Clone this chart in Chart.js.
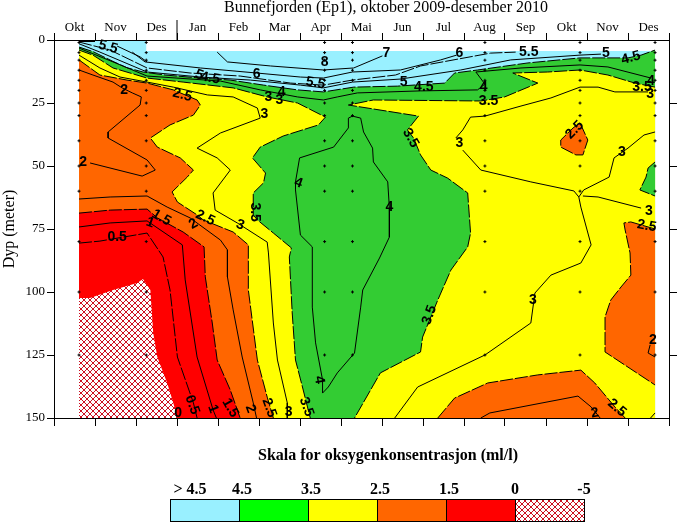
<!DOCTYPE html>
<html>
<head>
<meta charset="utf-8">
<title>Bunnefjorden</title>
<script src="https://cdn.jsdelivr.net/npm/chart.js@4"></script>
<style>
    body { margin: 0; background: #fff; }
    canvas { display: block; }
</style>
</head>
<body>
<canvas id="oxygen-section" width="677" height="523"></canvas>
<script>
const months = ['Okt', 'Nov', 'Des', 'Jan', 'Feb', 'Mar', 'Apr', 'Mai', 'Jun', 'Jul', 'Aug', 'Sep', 'Okt', 'Nov', 'Des'];
const depthTicks = [0, 25, 50, 75, 100, 125, 150];
const firstMonth = 0.61;
const lastMonth = 14.66;

// stations and sampling depths (month, metre)
const sampleMonths = [0.61, 2.25, 6.6, 7.28, 10.51, 12.83, 14.66];
const sampleDepths = [1, 5, 8, 12, 16, 20, 25, 30, 40, 50, 60, 80, 100, 125];

const surfaceWater = [[0.61, 0.4], [2.25, 0.4], [2.25, 4.4], [14.66, 4.4], [14.66, 30], [0.61, 30]];
const edge45 = [[0.61, 2.8], [0.95, 4.6], [1.44, 8.5], [1.78, 11], [2.17, 12.7], [2.71, 13.9], [3.57, 15.1], [4.3, 15.9], [5.11, 17.9], [5.94, 19.8], [6.57, 20.6], [7.31, 18.7], [8.38, 18.3], [9.53, 17.1], [9.77, 13.1], [10.33, 11.9], [11.56, 9.1], [12.83, 7.1], [14.0, 7.1], [14.32, 6.0], [14.66, 4.0]];
const edge35Left = [[0.61, 4.0], [0.95, 6.0], [1.44, 11.1], [2.27, 15.1], [3.15, 16.7], [4.37, 19.0], [5.2, 22.6], [5.94, 25.0], [6.62, 30.6], [6.45, 33.7], [5.59, 38.1], [5.03, 42.5], [4.84, 46.8], [5.16, 52.8], [5.11, 56.7], [4.86, 60.7], [4.86, 69.4], [4.96, 71.4], [5.35, 76.6], [5.79, 82.5], [5.74, 86.1], [5.81, 108.3], [5.89, 127], [6.06, 137.7], [6.25, 150]];
const edge35Right = [[14.66, 18.7], [14.17, 17.1], [13.51, 13.9], [12.83, 11.9], [12.04, 12.7], [11.19, 13.1], [11.8, 17.1], [10.99, 22.6], [10.41, 24.2], [7.79, 23.8], [7.18, 25.8], [8.89, 30.2], [8.62, 35.7], [8.77, 38.9], [8.94, 45.6], [9.19, 51.6], [9.6, 54.8], [10.09, 60.7], [10.16, 76.6], [10.09, 82.1], [9.68, 91.3], [9.36, 103.2], [8.99, 117.9], [8.94, 123.8], [7.96, 132.1], [7.33, 150]];
const edge25Left = [[0.61, 7.9], [1.12, 13.9], [1.78, 15.9], [2.27, 17.1], [2.91, 19.8], [3.49, 23.8], [3.57, 25.8], [3.4, 29.8], [2.83, 33.7], [2.35, 38.9], [2.52, 42.5], [3.08, 46.8], [3.4, 51.6], [3.25, 54.4], [2.88, 60.3], [3.01, 64.3], [3.49, 69.4], [3.64, 71.4], [4.37, 76.2], [4.74, 81.3], [4.74, 99.2], [4.96, 127], [5.2, 141.7], [5.35, 150]];
const edge25Small = [[12.83, 32.9], [13.02, 39.7], [12.9, 45.6], [12.73, 45.6], [12.36, 42.5], [12.36, 39.7], [12.66, 34.9], [12.83, 32.9]];
const edge25Side = [[14.66, 75], [14.07, 72.2], [13.9, 72.6], [13.93, 75.4], [14.05, 84.5], [14.07, 93.3], [13.83, 98], [13.58, 103.2], [13.44, 109.9], [13.44, 123.8], [14.66, 136.9]];
const edge25Floor = [[9.36, 150], [9.77, 142.1], [10.58, 136.1], [11.8, 132.9], [12.85, 131], [13.19, 136.1], [13.68, 145.6], [13.93, 150]];
const edge35Side = [[14.66, 48.4], [14.49, 50.8], [14.44, 54.4], [14.29, 59.5], [14.66, 61.9]];
const edge15 = [[0.61, 68.7], [1.37, 67.5], [2.27, 67.1], [2.52, 70.6], [3.15, 76.2], [3.66, 82.1], [3.69, 94], [3.86, 112.3], [3.98, 127], [4.3, 138.9], [4.54, 150]];
const edge0 = [[0.61, 102.4], [0.88, 102.4], [1.44, 99.2], [2.03, 96.4], [2.17, 94.8], [2.35, 99.2], [2.42, 116.3], [2.52, 125.8], [2.76, 136.1], [2.91, 144], [3.01, 150]];

// whole-value isolines
const line8 = [[0.61, 0.6], [1.0, 0.6]];
const line7 = [[3.98, 4.8], [4.23, 8.7], [5.28, 10.3], [6.57, 11.9], [7.31, 11.1], [8.01, 6.3]];
const line6 = [[1.91, 4.8], [2.22, 8.7], [3.57, 11.1], [4.94, 13.1], [6.01, 14.7], [6.57, 15.1], [7.28, 12.7], [8.45, 11.9], [9.43, 7.9], [9.82, 6]];
const line6b = [[1.54, 2.4], [2.1, 6.7], [2.27, 8.7]];
const line5 = [[0.61, 1.5], [1.12, 4.8], [2.27, 12.7], [3.57, 14.7], [4.79, 15.9], [6.01, 17.9], [6.57, 19], [7.28, 16.7], [8.45, 15.5], [9.92, 11.9], [11.14, 7.9], [12.83, 6], [13.34, 5.6]];
const line4 = [[0.61, 3.2], [1.44, 8.7], [2.27, 14.3], [4.06, 16.3], [5.03, 19.8], [5.94, 22.6], [6.57, 23.8], [6.91, 22.6], [7.4, 21], [8.94, 20.2], [10.33, 19.8], [10.51, 17.5], [10.29, 12.7], [11.39, 11.1], [12.83, 9.9], [13.51, 10.7], [14.56, 15.1]];
const line4Core = [[7.28, 30.2], [7.48, 31], [7.55, 36.5], [7.77, 42.9], [7.79, 48.4], [8.14, 56.3], [8.18, 66.7], [8.18, 78.2], [7.94, 86.5], [7.53, 99.2], [7.48, 106], [7.33, 124.2], [6.91, 132.1], [6.69, 137.7], [6.55, 140.1], [6.55, 134.9], [6.38, 120.2], [6.3, 106], [6.3, 82.1], [6.01, 77.4], [5.89, 59.5], [5.89, 56.3], [5.99, 46.8], [6.82, 42.5], [7.18, 34.9], [7.18, 31], [7.28, 30.2]];
const line3Left = [[0.61, 6.0], [1.12, 11.1], [1.61, 14.7], [2.27, 16.7], [2.91, 18.7], [3.74, 21.8], [4.37, 22.6], [4.96, 27], [5.03, 31], [4.06, 36.9], [3.49, 42.9], [3.98, 46.8], [4.3, 51.6], [3.88, 60.7], [3.93, 67.5], [4.47, 72.6], [5.2, 80.2], [5.23, 84.5], [5.35, 112.3], [5.45, 127], [5.69, 144], [5.69, 150]];
const line3Top = [[9.8, 38.9], [9.97, 35.7], [10.16, 30.6], [10.51, 30.2], [11.39, 26.2], [12.12, 23], [12.83, 18.7], [13.27, 18.7], [13.68, 20.6], [14.49, 20.6]];
const line3Mid = [[9.97, 43.7], [10.41, 51.6], [11.63, 56.3], [12.68, 59.9], [12.8, 62.3], [12.85, 66.3], [13.1, 81.3], [12.85, 88.5], [12.12, 93.3], [11.73, 100.4], [11.63, 112.3], [10.51, 125], [8.87, 137.7], [8.31, 150]];
const line3Upper = [[14.66, 36.5], [14.39, 37.7], [14.0, 42.9], [13.66, 46.8], [13.54, 54.4], [12.92, 59.5], [12.8, 62.3]];
const line3Lower = [[12.9, 61.9], [13.27, 62.3], [14.32, 66.7]];
const line2Top = [[0.61, 11.9], [0.95, 13.9], [1.44, 16.7], [1.66, 19], [1.91, 21], [2.13, 22.6], [2.1, 25.8], [1.32, 36.5], [1.32, 38.9], [2.27, 47.6], [2.47, 51.6], [2.15, 54], [0.88, 48.8]];
const line2Low = [[0.61, 63.1], [1.37, 62.3], [2.27, 61.9], [2.76, 66.3], [3.32, 70.6], [4.06, 79.4], [4.23, 83.3], [4.23, 94], [4.37, 107.1], [4.59, 125.8], [4.86, 144], [4.94, 150]];
const line2Floor = [[10.41, 150], [10.63, 148], [12.78, 141.3], [13.1, 145.6], [13.32, 150]];
const line2Side = [[14.66, 125.8], [14.49, 124.2], [14.54, 121]];
const line1 = [[0.61, 74.2], [1.37, 72.6], [2.27, 71.8], [3.13, 81.3], [3.2, 95.2], [3.49, 125.8], [3.88, 146.8], [3.96, 150]];

// half-value isolines, drawn dashed
const line55 = [[0.61, 0.8], [1.37, 4], [2.27, 11.1], [3.32, 13.1], [4.54, 14.3], [5.77, 17.1], [6.57, 17.9], [7.28, 15.9], [8.33, 13.9], [8.94, 10.3], [10.65, 5.2], [11.26, 4.8]];
const line05 = [[0.61, 80.6], [1.12, 79.8], [2.27, 76.6], [2.66, 86.1], [2.83, 99.2], [3.01, 125.8], [3.4, 144], [3.49, 150]];
const line25Corner = [[14.66, 148], [14.55, 150]];

// isoline labels: text, month, depth, rotation in degrees
const isolineLabels = [
    ['5.5', 1.32, 2.8, 15], ['5', 3.54, 13.9, 20], ['4.5', 3.81, 15.1, 10], ['6', 4.94, 13.5, 0],
    ['5.5', 6.38, 17.1, 10], ['8', 6.6, 8.7, 0], ['3', 5.23, 22.6, 0], ['3', 5.5, 23.8, 0],
    ['4', 5.55, 20.6, 0], ['2', 1.71, 19.8, 0], ['2.5', 3.13, 21.8, 15], ['3', 5.13, 29.4, 0],
    ['7', 8.11, 5.2, 0], ['6', 9.89, 5.2, 0], ['5.5', 11.58, 4.8, 0], ['5', 13.46, 5.2, 0],
    ['4.5', 14.07, 7.1, -15], ['5', 8.53, 16.7, 0], ['4.5', 9.02, 18.7, 0], ['4', 10.48, 18.7, 0],
    ['3.5', 10.6, 24.2, 0], ['3.5', 14.34, 18.7, 0], ['4', 14.56, 16.3, 0], ['3', 14.54, 21.4, 0],
    ['2.5', 12.7, 35.7, -45], ['3', 9.89, 40.9, 0], ['3.5', 8.7, 38.9, 60], ['3', 13.85, 44.4, 0],
    ['2', 0.71, 48.4, 0], ['4', 5.96, 56.7, 20], ['4', 8.18, 66.3, 0], ['3.5', 4.91, 68.3, 90],
    ['3', 4.54, 73.4, 20], ['2.5', 3.69, 70.6, 25], ['2', 3.4, 73, -30], ['1', 2.35, 72.5, 20],
    ['1.5', 2.62, 70.5, 30], ['0.5', 1.54, 78.2, 0], ['3', 14.51, 67.9, 0], ['2.5', 14.46, 73.8, 10],
    ['3.5', 9.16, 109.1, -70], ['3', 11.68, 103.2, 0], ['4', 6.47, 134.9, 80], ['2', 14.61, 119, 0],
    ['2.5', 13.73, 146, 40], ['2', 13.19, 148, -10], ['0', 3.03, 148, 0], ['0.5', 3.37, 144.8, 70],
    ['1', 3.88, 146.4, 70], ['1.5', 4.3, 146, 60], ['2', 4.79, 146.4, 70], ['2.5', 5.25, 146, 70],
    ['3', 5.72, 147.6, 0], ['3.5', 6.16, 145.6, 70]
];

const scaleLabels = ['> 4.5', '4.5', '3.5', '2.5', '1.5', '0', '-5'];

const cyan = '#99f0ff';
const green = '#33cc33';
const yellow = '#ffff00';
const orange = '#ff6600';
const red = '#ff0000';

function hatchPattern() {
    const tile = document.createElement('canvas');
    tile.width = 6;
    tile.height = 6;
    const c = tile.getContext('2d');
    c.fillStyle = '#fff';
    c.fillRect(0, 0, 6, 6);
    c.strokeStyle = '#cc1122';
    c.lineWidth = 1;
    c.beginPath();
    c.moveTo(0, 0);
    c.lineTo(6, 6);
    c.moveTo(0, 6);
    c.lineTo(6, 0);
    c.stroke();
    return c.createPattern(tile, 'repeat');
}
const hatch = hatchPattern();

const toPoints = pairs => pairs.map(p => ({ x: p[0], y: p[1] }));

function area(pairs, color) {
    return { data: toPoints(pairs), showLine: true, fill: 'shape', backgroundColor: color, borderWidth: 0, pointRadius: 0 };
}
function isoline(pairs, dash) {
    return { data: toPoints(pairs), showLine: true, fill: false, borderColor: '#000', borderWidth: 1, borderDash: dash || [], pointRadius: 0 };
}

const sea = [[lastMonth, 150], [firstMonth, 150]];
const longDash = [13, 2];

// painted back to front
const layers = [
    area(surfaceWater, cyan),
    area(edge45.concat(sea), green),
    area(edge35Left.concat([[firstMonth, 150]]), yellow),
    area(edge35Right.concat([[lastMonth, 150]]), yellow),
    area(edge35Side, green),
    area(edge25Left.concat([[firstMonth, 150]]), orange),
    area(edge25Small, orange),
    area(edge25Side, orange),
    area(edge25Floor, orange),
    area(edge15.concat([[firstMonth, 150]]), red),
    area(edge0.concat([[firstMonth, 150]]), hatch),
    isoline(edge45, longDash), isoline(edge35Left, longDash), isoline(edge35Right, longDash), isoline(edge35Side, longDash),
    isoline(edge25Left, longDash), isoline(edge25Small, longDash), isoline(edge25Side, longDash), isoline(edge25Floor, longDash),
    isoline(edge15, longDash), isoline(line55, longDash), isoline(line05, longDash), isoline(line25Corner),
    isoline(line8), isoline(line7), isoline(line6), isoline(line6b), isoline(line5), isoline(line4), isoline(line4Core),
    isoline(line3Left), isoline(line3Top), isoline(line3Mid), isoline(line3Upper), isoline(line3Lower),
    isoline(line2Top), isoline(line2Low), isoline(line2Floor), isoline(line2Side), isoline(line1),
    {
        data: sampleMonths.flatMap(m => sampleDepths.map(d => ({ x: m, y: d }))),
        showLine: false, pointStyle: 'cross', pointRadius: 1.5, pointBorderColor: '#000', pointBorderWidth: 1
    }
];
layers.forEach((d, i) => { d.order = -i; });

const sectionText = {
    id: 'sectionText',
    afterDatasetsDraw(chart) {
        const ctx = chart.ctx;
        const x = chart.scales.x;
        const y = chart.scales.y;
        ctx.save();
        ctx.fillStyle = '#000';
        ctx.textAlign = 'center';
        ctx.textBaseline = 'middle';
        ctx.font = 'bold 14px "Liberation Sans"';
        isolineLabels.forEach(l => {
            ctx.save();
            ctx.translate(x.getPixelForValue(l[1]), y.getPixelForValue(l[2]));
            ctx.rotate(l[3] * Math.PI / 180);
            ctx.fillText(l[0], 0, 0);
            ctx.restore();
        });
        ctx.restore();
    },
    afterDraw(chart) {
        const ctx = chart.ctx;
        const yearLine = chart.scales.x.getPixelForValue(3);
        ctx.save();
        ctx.strokeStyle = '#000';
        ctx.lineWidth = 1;
        ctx.beginPath();
        ctx.moveTo(yearLine, 40);
        ctx.lineTo(yearLine, 20);
        ctx.stroke();

        ctx.fillStyle = '#000';
        ctx.textAlign = 'center';
        ctx.textBaseline = 'middle';
        ctx.font = '16px "Liberation Serif"';
        ctx.fillText('Bunnefjorden (Ep1), oktober 2009-desember 2010', 386, 8);

        ctx.font = 'bold 16px "Liberation Serif"';
        ctx.fillText('Skala for oksygenkonsentrasjon (ml/l)', 388, 456);

        // colour scale under the section
        const colors = [cyan, '#00ff00', yellow, orange, red, hatch];
        const boxW = 69;
        colors.forEach((c, i) => {
            ctx.fillStyle = c;
            ctx.fillRect(170 + i * boxW, 499, boxW, 23);
            ctx.strokeRect(170.5 + i * boxW, 499.5, boxW, 22);
        });
        ctx.fillStyle = '#000';
        scaleLabels.forEach((t, i) => {
            const px = i === 0 ? 190 : 170 + i * boxW + (i < 5 ? 3 : 0);
            ctx.fillText(t, px, 490);
        });
        ctx.restore();
    }
};

const serif = { family: '"Liberation Serif"', size: 13 };

new Chart(document.getElementById('oxygen-section'), {
    type: 'scatter',
    data: { datasets: layers },
    options: {
        responsive: false,
        animation: false,
        devicePixelRatio: 1,
        layout: { padding: 0 },
        plugins: { legend: { display: false }, tooltip: { enabled: false } },
        scales: {
            x: {
                type: 'linear', position: 'top', min: 0, max: 15,
                afterFit: s => { s.height = 40; },
                afterBuildTicks: s => { s.ticks = months.map((m, i) => ({ value: i })).concat([{ value: 15 }]); },
                border: { color: '#000', width: 1 },
                grid: { drawOnChartArea: false, tickLength: 7, tickColor: '#000' },
                ticks: {
                    autoSkip: false, maxRotation: 0, padding: -2, labelOffset: 20.5, color: '#000', font: serif,
                    callback: value => months[value] || ''
                }
            },
            xb: {
                type: 'linear', position: 'bottom', min: 0, max: 15,
                afterFit: s => { s.height = 105; },
                afterBuildTicks: s => { s.ticks = months.map((m, i) => ({ value: i })).concat([{ value: 15 }]); },
                border: { color: '#000', width: 1 },
                grid: { drawOnChartArea: false, tickLength: 8, tickColor: '#000' },
                ticks: { display: false }
            },
            y: {
                type: 'linear', position: 'left', min: 0, max: 150, reverse: true,
                afterFit: s => { s.width = 54; },
                afterBuildTicks: s => { s.ticks = depthTicks.map(v => ({ value: v })); },
                border: { color: '#000', width: 1 },
                grid: { drawOnChartArea: false, tickLength: 7, tickColor: '#000' },
                ticks: { padding: 2, color: '#000', font: serif },
                title: { display: true, text: 'Dyp (meter)', color: '#000', padding: 0, font: { family: '"Liberation Serif"', size: 16 } }
            },
            yr: {
                type: 'linear', position: 'right', min: 0, max: 150, reverse: true,
                afterFit: s => { s.width = 8; },
                afterBuildTicks: s => { s.ticks = depthTicks.slice(1, -1).map(v => ({ value: v })); },
                border: { color: '#000', width: 1 },
                grid: { drawOnChartArea: false, tickLength: 8, tickColor: '#000' },
                ticks: { display: false }
            }
        }
    },
    plugins: [sectionText]
});
</script>
</body>
</html>
